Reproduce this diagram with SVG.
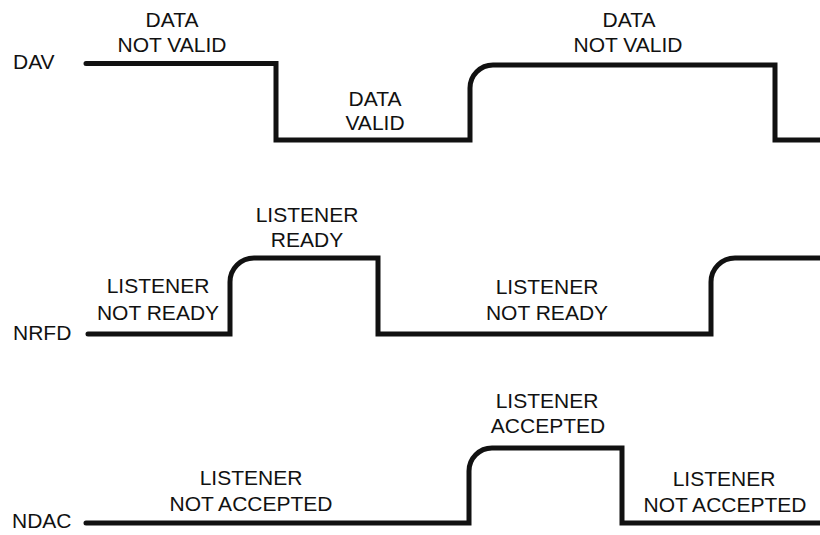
<svg xmlns="http://www.w3.org/2000/svg" width="820" height="535" viewBox="0 0 820 535">
<style>
text{font-family:"Liberation Sans",Arial,sans-serif;font-size:21px;fill:#111;}
.c{text-anchor:middle;}
.sig{fill:none;stroke:#111;stroke-width:5;stroke-linejoin:miter;}
</style>
<rect width="820" height="535" fill="#fff"/>
<g id="connectors">
<path class="sig" d="M86,63.5 H276 V140 H470 V88 A23 23 0 0 1 493 65 H775 V140 H822" stroke-linecap="round"/>
<path class="sig" d="M88,334 H230 V282 A24 24 0 0 1 254 258 H378 V334 H711 V282 A24 24 0 0 1 735 258 H822" stroke-linecap="round"/>
<path class="sig" d="M86,523 H469 V471 A23 23 0 0 1 492 448 H622 V523 H822" stroke-linecap="round"/>
</g>
<g id="DAV"><text x="13" y="69">DAV</text></g>
<g id="NRFD"><text x="13" y="340">NRFD</text></g>
<g id="NDAC"><text x="12" y="528">NDAC</text></g>
<g id="dav-notvalid-1"><text class="c" x="172" y="27">DATA</text><text class="c" x="172" y="52">NOT VALID</text></g>
<g id="dav-valid"><text class="c" x="375" y="106">DATA</text><text class="c" x="375" y="130">VALID</text></g>
<g id="dav-notvalid-2"><text class="c" x="629" y="27">DATA</text><text class="c" x="628" y="52">NOT VALID</text></g>
<g id="nrfd-notready-1"><text class="c" x="158" y="293">LISTENER</text><text class="c" x="158" y="320">NOT READY</text></g>
<g id="nrfd-ready"><text class="c" x="307" y="222">LISTENER</text><text class="c" x="307" y="247">READY</text></g>
<g id="nrfd-notready-2"><text class="c" x="547" y="294">LISTENER</text><text class="c" x="547" y="320">NOT READY</text></g>
<g id="ndac-notaccepted-1"><text class="c" x="251" y="485">LISTENER</text><text class="c" x="251" y="511">NOT ACCEPTED</text></g>
<g id="ndac-accepted"><text class="c" x="547" y="408">LISTENER</text><text class="c" x="548" y="433">ACCEPTED</text></g>
<g id="ndac-notaccepted-2"><text class="c" x="724" y="486">LISTENER</text><text class="c" x="725" y="512">NOT ACCEPTED</text></g>
</svg>
